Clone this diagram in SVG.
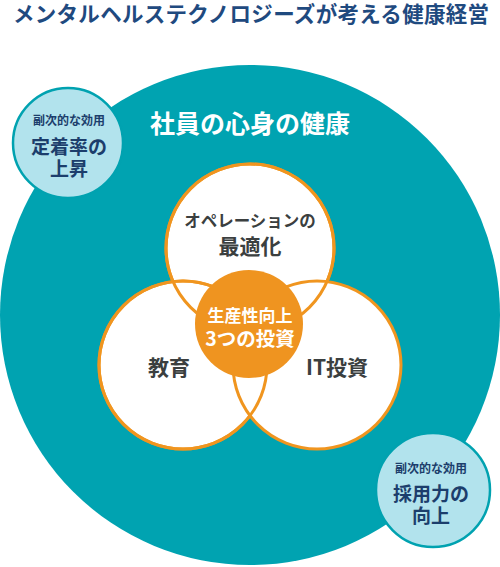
<svg xmlns="http://www.w3.org/2000/svg" width="500" height="567" viewBox="0 0 500 567">
<style>
text{font-family:"Noto Sans CJK JP","Noto Sans",sans-serif;font-weight:bold;text-anchor:middle}
.title{fill:#1f4a7f;font-size:21.5px}
.sub{fill:#1c3e6c;font-size:12px}
.btx{fill:#1c3e6c;font-size:19px}
.wc{fill:#fff;stroke:#f0951f;stroke-width:3}
.dk{fill:#3b3f3f}
.bub{fill:#b2e3ed;stroke:#00a2b0;stroke-width:2.5}
</style>
<rect width="500" height="567" fill="#fff"/>
<text class="title" x="251" y="22" textLength="476" lengthAdjust="spacing">メンタルヘルステクノロジーズが考える健康経営</text>
<g id="health">
<circle cx="250" cy="315" r="250" fill="#00a3b1"/>
<text x="250" y="133" fill="#fff" font-size="25">社員の心身の健康</text>
</g>
<g id="bubble-teichaku">
<circle class="bub" cx="68" cy="143" r="55"/>
<text class="sub" x="69" y="125">副次的な効用</text>
<text class="btx" x="69" y="154">定着率の</text>
<text class="btx" x="69" y="176">上昇</text>
</g>
<g id="bubble-saiyou">
<circle class="bub" cx="433" cy="490" r="57"/>
<text class="sub" x="431" y="473">副次的な効用</text>
<text class="btx" x="431" y="501">採用力の</text>
<text class="btx" x="431" y="523">向上</text>
</g>
<g id="circles">
<circle class="wc" cx="250" cy="248" r="84"/>
<circle class="wc" cx="183" cy="365" r="84"/>
<circle class="wc" cx="317" cy="365" r="84"/>
<circle cx="250" cy="248" r="84" fill="none" stroke="#f0951f" stroke-width="3"/>
<circle cx="183" cy="365" r="84" fill="none" stroke="#f0951f" stroke-width="3"/>
</g>
<g id="operation">
<text class="dk" x="250" y="227" font-size="16.5">オペレーションの</text>
<text class="dk" x="250" y="254" font-size="21">最適化</text>
</g>
<g id="education">
<text class="dk" x="169" y="375" font-size="21">教育</text>
</g>
<g id="it">
<text class="dk" x="337" y="375" font-size="21">IT投資</text>
</g>
<g id="center">
<circle cx="249" cy="324" r="54" fill="#ef9420"/>
<text x="250" y="322" fill="#fff" font-size="17">生産性向上</text>
<text x="250" y="346" fill="#fff" font-size="19.5">3つの投資</text>
</g>
</svg>
